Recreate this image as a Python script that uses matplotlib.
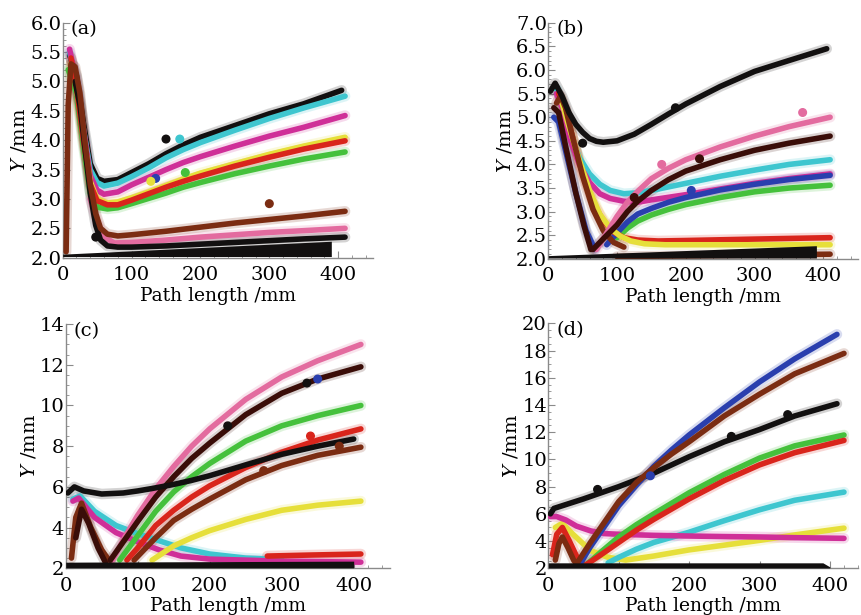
import matplotlib
matplotlib.use("Agg")
import matplotlib.pyplot as plt
from matplotlib.ticker import MultipleLocator

plt.rcParams['font.family'] = ['DejaVu Serif']
plt.rcParams['mathtext.fontset'] = 'dejavuserif'

# colours used in the figure
BLACK = '#121010'
CYAN = '#3ec6cf'
MAGENTA = '#cf2f98'
YELLOW = '#e6df3a'
RED = '#d9251c'
GREEN = '#45c13c'
BROWN = '#7b2c12'
PINK = '#e36b9f'
BLUE = '#2a3fae'
DKBROWN = '#3a0d08'

# ---------------- panel (a) ----------------
a_black_x = [10, 20, 30, 40, 50, 60, 80, 100, 125, 150, 175, 200, 250, 300, 350, 405]
a_black_y = [5.45, 5.1, 4.3, 3.6, 3.35, 3.3, 3.33, 3.45, 3.6, 3.77, 3.92, 4.05, 4.25, 4.45, 4.62, 4.85]
a_cyan_x = [10, 20, 30, 40, 50, 60, 80, 100, 125, 150, 175, 200, 250, 300, 350, 410]
a_cyan_y = [5.5, 5.0, 4.2, 3.5, 3.28, 3.22, 3.27, 3.38, 3.53, 3.7, 3.84, 3.96, 4.17, 4.37, 4.55, 4.75]
a_mag_x = [10, 20, 30, 40, 50, 60, 80, 100, 125, 150, 175, 200, 250, 300, 350, 410]
a_mag_y = [5.55, 5.0, 4.2, 3.4, 3.15, 3.08, 3.12, 3.24, 3.37, 3.5, 3.62, 3.72, 3.9, 4.07, 4.22, 4.42]
a_yel_x = [12, 20, 30, 40, 50, 65, 80, 100, 125, 150, 175, 200, 250, 300, 350, 410]
a_yel_y = [5.3, 4.9, 4.1, 3.3, 3.0, 2.93, 2.95, 3.02, 3.12, 3.23, 3.34, 3.44, 3.6, 3.76, 3.9, 4.05]
a_red_x = [12, 20, 30, 40, 50, 65, 80, 100, 125, 150, 175, 200, 250, 300, 350, 410]
a_red_y = [5.4, 4.9, 4.0, 3.25, 2.97, 2.9, 2.9, 2.98, 3.09, 3.2, 3.3, 3.39, 3.56, 3.71, 3.85, 3.99]
a_green_x = [8, 20, 30, 40, 50, 65, 80, 100, 125, 150, 175, 200, 250, 300, 350, 410]
a_green_y = [5.2, 4.8, 3.9, 3.1, 2.86, 2.83, 2.85, 2.92, 3.01, 3.1, 3.2, 3.28, 3.43, 3.56, 3.68, 3.8]
a_brown_x = [5, 8, 12, 18, 25, 32, 40, 48, 55, 65, 80, 100, 150, 200, 250, 300, 350, 410]
a_brown_y = [2.1, 4.6, 5.3, 5.25, 4.8, 4.0, 3.25, 2.75, 2.5, 2.4, 2.37, 2.39, 2.45, 2.52, 2.59, 2.65, 2.71, 2.79]
a_pink_x = [40, 50, 60, 75, 100, 150, 200, 250, 300, 350, 410]
a_pink_y = [3.0, 2.6, 2.35, 2.25, 2.26, 2.3, 2.35, 2.39, 2.43, 2.46, 2.5]
a_dark_x = [18, 25, 32, 40, 48, 55, 65, 80, 100, 150, 200, 250, 300, 350, 410]
a_dark_y = [5.0, 4.6, 3.9, 3.1, 2.55, 2.3, 2.2, 2.18, 2.18, 2.2, 2.23, 2.26, 2.29, 2.32, 2.35]
a_base_x = [0, 390]
a_base_lo = [2.02, 2.02]
a_base_hi = [2.06, 2.28]
a_out_x = [150, 170, 178, 135, 128, 300, 48]
a_out_y = [4.02, 4.02, 3.45, 3.35, 3.3, 2.92, 2.35]
a_out_c = [BLACK, CYAN, GREEN, BLUE, YELLOW, BROWN, BLACK]

# ---------------- panel (b) ----------------
b_black_x = [3, 10, 20, 30, 40, 50, 60, 70, 80, 100, 125, 150, 175, 200, 250, 300, 350, 405]
b_black_y = [5.55, 5.72, 5.45, 5.1, 4.85, 4.68, 4.55, 4.49, 4.47, 4.5, 4.64, 4.85, 5.07, 5.28, 5.65, 5.97, 6.2, 6.45]
b_pink_x = [70, 85, 100, 115, 130, 150, 175, 200, 250, 300, 350, 410]
b_pink_y = [2.2, 2.55, 2.9, 3.2, 3.43, 3.7, 3.92, 4.1, 4.37, 4.6, 4.8, 5.0]
b_dkr_x = [65, 85, 100, 115, 130, 150, 175, 200, 250, 300, 350, 410]
b_dkr_y = [2.2, 2.5, 2.72, 3.0, 3.22, 3.45, 3.68, 3.86, 4.1, 4.3, 4.45, 4.6]
b_cyan_x = [12, 20, 30, 45, 60, 75, 90, 110, 130, 150, 200, 250, 300, 350, 410]
b_cyan_y = [5.6, 5.3, 4.7, 4.15, 3.8, 3.58, 3.45, 3.38, 3.4, 3.45, 3.6, 3.75, 3.88, 4.0, 4.1]
b_mag_x = [12, 20, 30, 45, 60, 75, 90, 110, 130, 150, 200, 250, 300, 350, 410]
b_mag_y = [5.5, 5.2, 4.6, 4.0, 3.62, 3.38, 3.28, 3.22, 3.2, 3.25, 3.36, 3.48, 3.6, 3.7, 3.8]
b_blue_x = [85, 100, 115, 130, 150, 175, 200, 250, 300, 350, 410]
b_blue_y = [2.3, 2.55, 2.78, 2.95, 3.07, 3.2, 3.3, 3.46, 3.58, 3.68, 3.77]
b_green_x = [100, 115, 130, 150, 175, 200, 250, 300, 350, 410]
b_green_y = [2.45, 2.65, 2.8, 2.93, 3.05, 3.15, 3.3, 3.42, 3.5, 3.56]
b_red_x = [15, 25, 35, 50, 65, 80, 95, 110, 130, 160, 200, 300, 410]
b_red_y = [5.5, 5.15, 4.6, 3.8, 3.2, 2.8, 2.57, 2.45, 2.4, 2.38, 2.39, 2.42, 2.45]
b_yel_x = [18, 30, 45, 60, 75, 90, 105, 120, 140, 170, 200, 300, 410]
b_yel_y = [5.4, 4.8, 4.1, 3.45, 2.95, 2.65, 2.48, 2.38, 2.32, 2.3, 2.3, 2.3, 2.3]
b_brown_x = [12, 18, 25, 35, 50, 65, 80, 95, 110]
b_brown_y = [5.3, 5.45, 5.2, 4.6, 3.75, 3.05, 2.6, 2.35, 2.25]
b_bluedn_x = [8, 15, 25, 40, 55, 68]
b_bluedn_y = [5.0, 4.9, 4.3, 3.4, 2.6, 2.2]
b_dark_x = [8, 15, 25, 40, 52, 62]
b_dark_y = [5.2, 5.1, 4.4, 3.4, 2.7, 2.2]
b_base_x = [0, 390]
b_base_lo = [2.02, 2.02]
b_base_hi = [2.07, 2.28]
b_bbr_x = [100, 410]
b_bbr_y = [2.05, 2.1]
b_out_x = [185, 50, 370, 165, 220, 125, 208]
b_out_y = [5.2, 4.45, 5.1, 4.0, 4.12, 3.3, 3.45]
b_out_c = [BLACK, BLACK, PINK, PINK, DKBROWN, DKBROWN, BLUE]

# ---------------- panel (c) ----------------
c_black_x = [3, 12, 25, 50, 80, 100, 120, 150, 175, 200, 250, 300, 350, 400]
c_black_y = [5.7, 6.0, 5.8, 5.65, 5.7, 5.8, 5.92, 6.12, 6.32, 6.55, 7.08, 7.6, 8.0, 8.35]
c_pink_x = [65, 80, 100, 125, 150, 175, 200, 250, 300, 350, 410]
c_pink_y = [2.4, 3.4, 4.6, 5.9, 7.0, 8.0, 8.85, 10.3, 11.4, 12.2, 13.0]
c_dkr_x = [62, 80, 100, 125, 150, 175, 200, 250, 300, 350, 410]
c_dkr_y = [2.4, 3.3, 4.3, 5.5, 6.5, 7.4, 8.15, 9.55, 10.6, 11.3, 11.9]
c_green_x = [75, 100, 125, 150, 175, 200, 250, 300, 350, 410]
c_green_y = [2.4, 3.6, 4.8, 5.75, 6.5, 7.15, 8.25, 9.0, 9.5, 10.0]
c_red_x = [85, 100, 125, 150, 175, 200, 250, 300, 350, 410]
c_red_y = [2.4, 3.0, 4.1, 4.85, 5.5, 6.05, 6.95, 7.7, 8.3, 8.85]
c_brown_x = [95, 125, 150, 175, 200, 250, 300, 350, 410]
c_brown_y = [2.4, 3.5, 4.35, 4.9, 5.4, 6.35, 7.05, 7.55, 7.95]
c_yel_x = [120, 150, 175, 200, 250, 300, 350, 410]
c_yel_y = [2.4, 3.1, 3.5, 3.85, 4.4, 4.85, 5.1, 5.3]
c_cyan_x = [10, 20, 40, 70, 100, 130, 160, 200, 250, 300]
c_cyan_y = [5.4, 5.55, 4.8, 4.1, 3.7, 3.35, 3.0, 2.7, 2.5, 2.42]
c_mag_x = [10, 18, 40, 70, 100, 130, 160, 200, 300, 410]
c_mag_y = [5.3, 5.45, 4.5, 3.75, 3.3, 2.9, 2.6, 2.45, 2.35, 2.3]
c_tent1_x = [8, 14, 22, 35, 50, 62]
c_tent1_y = [2.5, 4.5, 5.2, 4.0, 2.9, 2.3]
c_tent2_x = [14, 22, 32, 45, 55]
c_tent2_y = [3.5, 4.9, 4.2, 3.0, 2.3]
c_redfl_x = [280, 340, 410]
c_redfl_y = [2.6, 2.65, 2.7]
c_base_x = [0, 400]
c_base_lo = [2.02, 2.02]
c_base_hi = [2.3, 2.35]
c_out_x = [335, 350, 340, 380, 225, 275]
c_out_y = [11.1, 11.3, 8.5, 8.0, 9.0, 6.8]
c_out_c = [BLACK, BLUE, RED, BROWN, BLACK, BROWN]

# ---------------- panel (d) ----------------
d_black_x = [3, 8, 20, 50, 75, 100, 150, 200, 250, 300, 350, 410]
d_black_y = [6.0, 6.4, 6.6, 7.1, 7.55, 8.0, 9.0, 10.2, 11.3, 12.2, 13.2, 14.1]
d_blue_x = [45, 60, 80, 100, 125, 150, 175, 200, 250, 300, 350, 410]
d_blue_y = [2.3, 3.6, 5.1, 6.6, 8.1, 9.5, 10.7, 11.8, 13.8, 15.7, 17.4, 19.2]
d_brown_x = [40, 60, 80, 100, 125, 150, 175, 200, 250, 300, 350, 420]
d_brown_y = [2.3, 3.9, 5.4, 6.9, 8.3, 9.4, 10.4, 11.3, 13.2, 14.8, 16.3, 17.8]
d_green_x = [55, 75, 100, 125, 150, 200, 250, 300, 350, 420]
d_green_y = [2.3, 3.2, 4.3, 5.2, 6.0, 7.55, 8.9, 10.1, 11.0, 11.8]
d_red_x = [55, 75, 100, 125, 150, 200, 250, 300, 350, 420]
d_red_y = [2.3, 3.0, 3.9, 4.8, 5.6, 7.1, 8.45, 9.6, 10.5, 11.4]
d_cyan_x = [85, 100, 125, 150, 200, 250, 300, 350, 420]
d_cyan_y = [2.4, 2.8, 3.4, 3.9, 4.65, 5.5, 6.3, 7.0, 7.6]
d_yel_x = [10, 20, 35, 60, 85, 110, 150, 200, 250, 300, 350, 420]
d_yel_y = [5.0, 5.3, 4.5, 3.3, 2.8, 2.6, 2.9, 3.35, 3.7, 4.05, 4.45, 4.95]
d_mag_x = [3, 12, 25, 40, 60, 80, 100, 150, 200, 250, 300, 350, 420]
d_mag_y = [5.8, 5.8, 5.55, 5.1, 4.75, 4.55, 4.5, 4.42, 4.37, 4.33, 4.3, 4.25, 4.2]
d_tent1_x = [6, 12, 20, 30, 40, 50]
d_tent1_y = [3.0, 4.5, 5.0, 4.0, 2.9, 2.3]
d_tent2_x = [10, 15, 20, 28, 36, 42]
d_tent2_y = [2.6, 3.8, 4.3, 3.5, 2.6, 2.2]
d_base_x = [0, 390, 400]
d_base_lo = [2.02, 2.02, 2.02]
d_base_hi = [2.4, 2.4, 2.1]
d_out_x = [340, 260, 70, 145]
d_out_y = [13.3, 11.7, 7.8, 8.8]
d_out_c = [BLACK, BLACK, BLACK, BLUE]

fig = plt.figure(figsize=(8.61, 6.15), dpi=100)

ax_a = fig.add_axes([0.0728, 0.581, 0.360, 0.382])
ax_b = fig.add_axes([0.6368, 0.579, 0.3593, 0.384])
ax_c = fig.add_axes([0.0763, 0.076, 0.3763, 0.397])
ax_d = fig.add_axes([0.6368, 0.076, 0.3598, 0.398])


def curve(ax, x, y, color, lw=4.0):
    ax.plot(x, y, color=color, lw=lw * 1.9, alpha=0.18, solid_capstyle='round',
            solid_joinstyle='round', zorder=2)
    ax.plot(x, y, color=color, lw=lw, solid_capstyle='round',
            solid_joinstyle='round', zorder=3)


def base(ax, x, lo, hi):
    ax.fill_between(x, lo, hi, color=BLACK, lw=0, zorder=4)


def style(ax, ylim, ymaj, ymin, fmt, label):
    ax.set_xlim(0, 450)
    ax.set_ylim(*ylim)
    ax.xaxis.set_major_locator(MultipleLocator(100))
    ax.xaxis.set_minor_locator(MultipleLocator(20))
    ax.yaxis.set_major_locator(MultipleLocator(ymaj))
    ax.yaxis.set_minor_locator(MultipleLocator(ymin))
    ax.yaxis.set_major_formatter(plt.FormatStrFormatter(fmt))
    for s in ['top', 'right']:
        ax.spines[s].set_visible(False)
    for s in ['left', 'bottom']:
        ax.spines[s].set_color('#8a8a8a')
        ax.spines[s].set_linewidth(1.0)
    ax.tick_params(which='both', direction='in', color='#8a8a8a', labelsize=14)
    ax.tick_params(axis='y', pad=1)
    ax.tick_params(axis='x', pad=6)
    ax.tick_params(which='major', length=5)
    ax.tick_params(which='minor', length=2.5)
    ax.set_xlabel('Path length /mm', fontsize=13.5, labelpad=2)
    ax.set_ylabel('$\\mathit{Y}$ /mm', fontsize=14, labelpad=1)
    ax.text(0.025, 1.01, label, transform=ax.transAxes, fontsize=14, va='top', ha='left')
    ax.patch.set_alpha(0)


# panel (a)
for x, y, c in [(a_black_x, a_black_y, BLACK), (a_cyan_x, a_cyan_y, CYAN),
                (a_mag_x, a_mag_y, MAGENTA), (a_green_x, a_green_y, GREEN),
                (a_yel_x, a_yel_y, YELLOW), (a_red_x, a_red_y, RED),
                (a_pink_x, a_pink_y, PINK), (a_dark_x, a_dark_y, BLACK),
                (a_brown_x, a_brown_y, BROWN)]:
    curve(ax_a, x, y, c)
base(ax_a, a_base_x, a_base_lo, a_base_hi)
ax_a.scatter(a_out_x, a_out_y, c=a_out_c, s=30, zorder=5)
style(ax_a, (2.0, 6.0), 0.5, 0.1, '%.1f', '(a)')

# panel (b)
for x, y, c in [(b_cyan_x, b_cyan_y, CYAN), (b_mag_x, b_mag_y, MAGENTA),
                (b_green_x, b_green_y, GREEN), (b_blue_x, b_blue_y, BLUE),
                (b_red_x, b_red_y, RED), (b_yel_x, b_yel_y, YELLOW),
                (b_bluedn_x, b_bluedn_y, BLUE), (b_brown_x, b_brown_y, BROWN),
                (b_dark_x, b_dark_y, DKBROWN), (b_pink_x, b_pink_y, PINK),
                (b_dkr_x, b_dkr_y, DKBROWN), (b_black_x, b_black_y, BLACK),
                (b_bbr_x, b_bbr_y, BROWN)]:
    curve(ax_b, x, y, c)
base(ax_b, b_base_x, b_base_lo, b_base_hi)
ax_b.scatter(b_out_x, b_out_y, c=b_out_c, s=30, zorder=5)
style(ax_b, (2.0, 7.0), 0.5, 0.1, '%.1f', '(b)')

# panel (c)
for x, y, c in [(c_cyan_x, c_cyan_y, CYAN), (c_mag_x, c_mag_y, MAGENTA),
                (c_tent1_x, c_tent1_y, BROWN), (c_tent2_x, c_tent2_y, DKBROWN),
                (c_redfl_x, c_redfl_y, RED), (c_yel_x, c_yel_y, YELLOW),
                (c_brown_x, c_brown_y, BROWN), (c_red_x, c_red_y, RED),
                (c_green_x, c_green_y, GREEN), (c_pink_x, c_pink_y, PINK),
                (c_dkr_x, c_dkr_y, DKBROWN), (c_black_x, c_black_y, BLACK)]:
    curve(ax_c, x, y, c)
base(ax_c, c_base_x, c_base_lo, c_base_hi)
ax_c.scatter(c_out_x, c_out_y, c=c_out_c, s=30, zorder=5)
style(ax_c, (2, 14), 2, 0.5, '%d', '(c)')

# panel (d)
for x, y, c in [(d_yel_x, d_yel_y, YELLOW), (d_cyan_x, d_cyan_y, CYAN),
                (d_mag_x, d_mag_y, MAGENTA), (d_tent1_x, d_tent1_y, RED),
                (d_tent2_x, d_tent2_y, BROWN), (d_green_x, d_green_y, GREEN),
                (d_red_x, d_red_y, RED), (d_black_x, d_black_y, BLACK),
                (d_blue_x, d_blue_y, BLUE), (d_brown_x, d_brown_y, BROWN)]:
    curve(ax_d, x, y, c)
base(ax_d, d_base_x, d_base_lo, d_base_hi)
ax_d.scatter(d_out_x, d_out_y, c=d_out_c, s=30, zorder=5)
style(ax_d, (2, 20), 2, 0.5, '%d', '(d)')
ax_d.set_xlim(0, 440)

fig.savefig('out.png', dpi=100)
